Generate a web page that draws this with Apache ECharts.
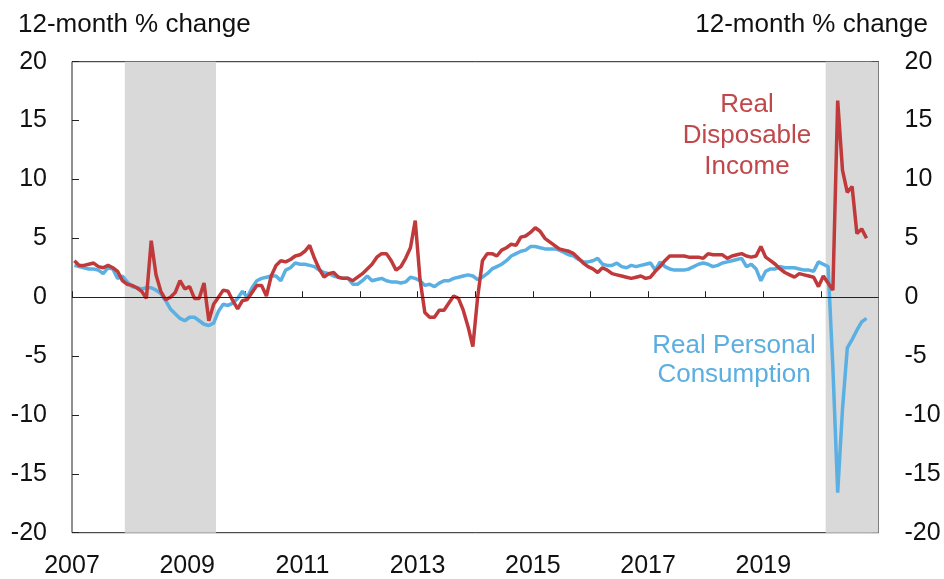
<!DOCTYPE html>
<html>
<head>
<meta charset="utf-8">
<script src="https://cdn.jsdelivr.net/npm/echarts@6/dist/echarts.min.js"></script>
<style>
  html, body { margin: 0; padding: 0; background: #fff; }
  #main { width: 944px; height: 579px; }
</style>
</head>
<body>
<div id="main"></div>
<script>
// monthly 12-month % changes, Jan 2007 onward
var startYear = 2007;

var income = [
  3.1, 2.7, 2.7, 2.8, 2.9, 2.6, 2.5, 2.7, 2.5, 2.2, 1.4, 1.1,
  1.0, 0.8, 0.5, -0.1, 4.8, 1.9, 0.5, -0.2, 0.0, 0.4, 1.4, 0.7,
  0.9, -0.1, -0.1, 1.2, -2.0, -0.6, 0.0, 0.6, 0.5, -0.3, -1.0, -0.3,
  -0.2, 0.4, 1.0, 1.0, 0.1, 1.8, 2.7, 3.1, 3.0, 3.2, 3.5, 3.6,
  3.9, 4.4, 3.3, 2.4, 1.7, 2.0, 2.1, 1.7, 1.6, 1.6, 1.4, 1.7,
  2.0, 2.4, 2.8, 3.4, 3.7, 3.7, 3.1, 2.3, 2.6, 3.3, 4.2, 6.5,
  1.5, -1.3, -1.7, -1.7, -1.1, -1.1, -0.5, 0.1, -0.1, -1.1, -2.5, -4.2,
  0.0, 3.1, 3.7, 3.7, 3.5, 4.0, 4.2, 4.5, 4.4, 5.1, 5.2, 5.5,
  5.9, 5.6, 5.0, 4.7, 4.4, 4.1, 4.0, 3.9, 3.7, 3.3, 2.9, 2.6,
  2.4, 2.1, 2.5, 2.3, 2.0, 1.9, 1.8, 1.7, 1.6, 1.7, 1.8, 1.6,
  1.7, 2.2, 2.6, 3.1, 3.5, 3.5, 3.5, 3.5, 3.4, 3.4, 3.4, 3.3,
  3.7, 3.6, 3.6, 3.6, 3.3, 3.5, 3.6, 3.7, 3.5, 3.4, 3.5, 4.3,
  3.4, 3.1, 2.8, 2.4, 2.1, 1.9, 1.7, 2.0, 1.9, 1.8, 1.7, 0.9,
  1.8, 1.2, 0.6, 16.7, 10.8, 8.9, 9.4, 5.4, 5.8, 5.0
];

var consumption = [
  2.7, 2.6, 2.5, 2.4, 2.4, 2.3, 2.0, 2.5, 2.4, 1.6, 1.8, 1.3,
  0.9, 0.8, 0.7, 0.8, 0.8, 0.6, 0.3, -0.3, -1.0, -1.4, -1.8, -2.0,
  -1.7, -1.7, -2.0, -2.3, -2.4, -2.2, -1.2, -0.6, -0.7, -0.5, -0.1, 0.5,
  0.0, 0.8, 1.4, 1.6, 1.7, 1.8, 1.8, 1.4, 2.3, 2.5, 2.9, 2.8,
  2.8, 2.7, 2.6, 2.3, 2.1, 2.0, 1.8, 1.7, 1.6, 1.6, 1.1, 1.1,
  1.4, 1.8, 1.4, 1.5, 1.6, 1.4, 1.3, 1.3, 1.2, 1.3, 1.7, 1.6,
  1.4, 1.0, 1.1, 0.9, 1.2, 1.4, 1.4, 1.6, 1.7, 1.8, 1.9, 1.8,
  1.5, 1.7, 2.0, 2.4, 2.6, 2.8, 3.1, 3.5, 3.7, 3.9, 4.0, 4.3,
  4.3, 4.2, 4.1, 4.1, 4.1, 4.0, 3.8, 3.6, 3.5, 3.2, 3.0, 3.0,
  3.1, 3.3, 2.8, 2.7, 2.7, 2.9, 2.6, 2.5, 2.7, 2.6, 2.7, 2.8,
  2.9, 2.3, 3.0, 2.6, 2.4, 2.3, 2.3, 2.3, 2.4, 2.6, 2.8, 2.9,
  2.8, 2.6, 2.7, 2.9, 3.0, 3.1, 3.2, 3.3, 2.6, 2.8, 2.4, 1.4,
  2.2, 2.4, 2.4, 2.6, 2.5, 2.5, 2.5, 2.4, 2.3, 2.3, 2.2, 3.0,
  2.8, 2.6, -6.0, -16.6, -9.5, -4.3, -3.6, -2.8, -2.1, -1.8
];

// recessions, start/end as decimal years (Dec 2007 - Jun 2009, Feb 2020 -)
var recessions = [
  [2007 + 11 / 12, 2009 + 6 / 12],
  [2020 + 1 / 12, 2021]
];

var yMin = -20, yMax = 20, yStep = 5;
var xMin = 2007, xMax = 2021;

var toPoints = function (arr) {
  return arr.map(function (v, i) { return [startYear + (i + 0.5) / 12, v]; });
};

var font = "'Liberation Sans', Arial, Helvetica, sans-serif";
var red = '#c0393b';
var blue = '#5aafe3';

var chart = echarts.init(document.getElementById('main'));

var yAxisBase = function (pos) {
  return {
    type: 'value',
    position: pos,
    min: yMin,
    max: yMax,
    interval: yStep,
    axisLine: { show: false },
    axisTick: { show: true, inside: true, length: 7, lineStyle: { color: '#222' } },
    axisLabel: {
      margin: pos === 'left' ? 25 : 26,
      fontSize: 25,
      fontFamily: font,
      color: '#111'
    },
    splitLine: { show: false }
  };
};

var option = {
  animation: false,
  grid: {
    left: 72,
    right: 65.5,
    top: 61.7,
    bottom: 46.3,
    show: true,
    borderColor: '#222',
    borderWidth: 1,
    backgroundColor: 'transparent'
  },
  xAxis: {
    type: 'value',
    min: xMin,
    max: xMax,
    interval: 1,
    axisLine: { show: false },
    axisTick: { show: true, inside: true, length: 6, lineStyle: { color: '#222' } },
    axisLabel: {
      margin: 21,
      fontSize: 25,
      fontFamily: font,
      color: '#111',
      formatter: function (v) {
        return (v - xMin) % 2 === 0 && v < xMax ? String(v) : '';
      }
    },
    splitLine: { show: false }
  },
  yAxis: [yAxisBase('left'), yAxisBase('right')],
  graphic: [
    {
      type: 'text', x: 18, y: 25,
      style: { text: '12-month % change', font: '26px ' + font, fill: '#111', align: 'left', verticalAlign: 'middle' }
    },
    {
      type: 'text', x: 928, y: 25,
      style: { text: '12-month % change', font: '26px ' + font, fill: '#111', align: 'right', verticalAlign: 'middle' }
    },
    {
      type: 'text', x: 747, y: 136, z: 10,
      style: { text: 'Real\nDisposable\nIncome', font: '26px ' + font, fill: '#c0474a', align: 'center', verticalAlign: 'middle', lineHeight: 31 }
    },
    {
      type: 'text', x: 734, y: 360, z: 10,
      style: { text: 'Real Personal\nConsumption', font: '26px ' + font, fill: '#5aaee0', align: 'center', verticalAlign: 'middle', lineHeight: 29 }
    }
  ],
  series: [
    {
      // background: recession shading and zero line
      type: 'line',
      data: [],
      z: 1,
      silent: true,
      markArea: {
        silent: true,
        itemStyle: { color: '#d9d9d9' },
        data: recessions.map(function (r) { return [{ xAxis: r[0] }, { xAxis: r[1] }]; })
      },
      markLine: {
        silent: true,
        symbol: 'none',
        label: { show: false },
        lineStyle: { color: '#222', width: 1, type: 'solid' },
        data: [{ yAxis: 0 }]
      }
    },
    {
      name: 'Real Personal Consumption',
      type: 'line',
      z: 3,
      showSymbol: false,
      data: toPoints(consumption),
      lineStyle: { color: blue, width: 3.5 },
      itemStyle: { color: blue }
    },
    {
      name: 'Real Disposable Income',
      type: 'line',
      z: 4,
      showSymbol: false,
      data: toPoints(income),
      lineStyle: { color: red, width: 3.5 },
      itemStyle: { color: red }
    }
  ]
};

chart.setOption(option);
</script>
</body>
</html>
